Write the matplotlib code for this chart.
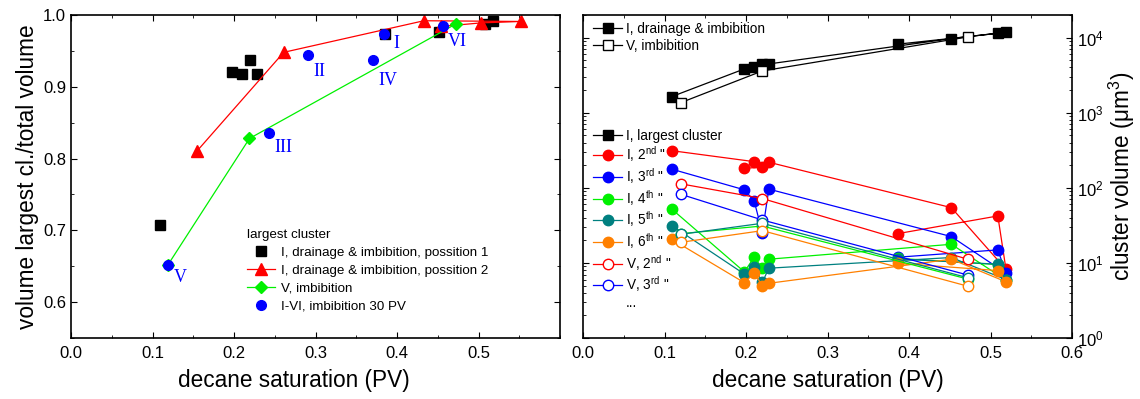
import matplotlib
matplotlib.use('Agg')
import matplotlib.pyplot as plt
from matplotlib.lines import Line2D
from matplotlib.ticker import MultipleLocator, LogLocator, NullFormatter

plt.rcParams['font.family'] = ['Liberation Sans', 'DejaVu Sans']
plt.rcParams['mathtext.fontset'] = 'custom'
plt.rcParams['mathtext.rm'] = 'Liberation Sans'
plt.rcParams['mathtext.it'] = 'Liberation Sans:italic'

# ---- left panel data: largest cluster / total volume ----
pos1_sat = [0.109, 0.198, 0.210, 0.220, 0.228, 0.385, 0.452, 0.508, 0.518]
pos1_frac = [0.707, 0.920, 0.918, 0.937, 0.918, 0.974, 0.977, 0.987, 0.991]

pos2_sat = [0.155, 0.261, 0.433, 0.552, 0.503, 0.454]
pos2_frac = [0.811, 0.948, 0.992, 0.991, 0.989, 0.984]

v_sat = [0.119, 0.219, 0.473]
v_frac = [0.652, 0.828, 0.988]

pv30_sat = [0.384, 0.291, 0.243, 0.370, 0.119, 0.457]
pv30_frac = [0.974, 0.944, 0.836, 0.938, 0.652, 0.984]
pv30_names = ['I', 'II', 'III', 'IV', 'V', 'VI']

# ---- right panel data: cluster volumes (um^3) ----
sat_I = [0.109, 0.198, 0.210, 0.220, 0.228, 0.452, 0.519, 0.509, 0.386]
sat_I_red = [0.109, 0.210, 0.198, 0.220, 0.228, 0.452, 0.519, 0.509, 0.386]
I_largest = [1640, 3830, 4110, 4460, 4460, 9700, 11800, 11400, 8170]
I_2nd = [312, 223, 182, 188, 219, 54.4, 8.2, 42.2, 24.5]
I_3rd = [177, 94, 67, 25.3, 96, 22.4, 7.3, 14.9, 11.9]
I_4th = [52, 7.6, 11.9, 8.5, 11.2, 17.7, 5.9, 9.5, 11.5]
I_5th = [31.3, 7.1, 8.9, 5.5, 8.5, 11.8, 6.0, 9.6, 11.3]
I_6th = [20.6, 5.45, 7.3, 5.0, 5.35, 11.2, 5.6, 7.9, 9.9]

sat_V = [0.120, 0.220, 0.472]
V_largest = [1361, 3597, 10200]
V_2nd = [113, 72, 11.2]
V_3rd = [82, 37.3, 6.9]
V_4th = [24.5, 31, 6.1]
V_5th = [24, 33.7, 6.35]
V_6th = [18.8, 26.9, 4.9]

RED = '#ff0000'
GREEN = '#00f000'
BLUE = '#0000ff'
TEAL = '#008080'
ORANGE = '#ff8000'

fig = plt.figure(figsize=(11.4, 3.99), dpi=100)
ax1 = fig.add_axes([71 / 1140, 61 / 399, 489 / 1140, 323 / 399])
ax2 = fig.add_axes([583 / 1140, 61 / 399, 489 / 1140, 323 / 399])

# ---------------- left panel ----------------
ax1.plot(pos1_sat, pos1_frac, 's', color='black', ms=6.5,
         label='I, drainage & imbibition, possition 1')
ax1.plot(pos2_sat, pos2_frac, '-^', color=RED, lw=0.9, ms=8,
         label='I, drainage & imbibition, possition 2')
ax1.plot(v_sat, v_frac, '-D', color=GREEN, lw=0.9, ms=6.5,
         label='V, imbibition')
ax1.plot(pv30_sat, pv30_frac, 'o', color=BLUE, ms=7,
         label='I-VI, imbibition 30 PV')

label_offsets = [(9, -7), (8, -12), (10, -11), (11, -15), (9, -9), (10, -11)]
for sx, fy, name, off in zip(pv30_sat, pv30_frac, pv30_names, label_offsets):
    ax1.annotate(name, (sx, fy), xytext=off, textcoords='offset points',
                 ha='center', va='center', color=BLUE, fontsize=13,
                 family='Liberation Serif')

ax1.set_xlim(0, 0.6)
ax1.set_ylim(0.55, 1.0)
ax1.set_xticks([0.0, 0.1, 0.2, 0.3, 0.4, 0.5])
ax1.xaxis.set_minor_locator(MultipleLocator(0.05))
ax1.yaxis.set_major_locator(MultipleLocator(0.1))
ax1.yaxis.set_minor_locator(MultipleLocator(0.05))
ax1.set_xlabel('decane saturation (PV)', fontsize=16.3)
ax1.xaxis.set_label_coords(0.455, -0.095)
ax1.set_ylabel('volume largest cl./total volume', fontsize=16.3, labelpad=3)
ax1.legend(title='largest cluster', loc='lower left',
           bbox_to_anchor=(0.35, 0.062), frameon=False, fontsize=9.6,
           title_fontsize=9.6, handlelength=2.1, handletextpad=0.4,
           labelspacing=0.42, borderaxespad=0, alignment='left')

# ---------------- right panel ----------------
ax2.set_yscale('log')
ax2.plot(sat_I, I_largest, '-s', color='black', lw=0.9, ms=7)
ax2.plot(sat_V, V_largest, '-s', color='black', mfc='white', lw=0.9, ms=7)

ax2.plot(sat_I_red, I_2nd, '-o', color=RED, lw=0.9, ms=7.5)
ax2.plot(sat_I, I_3rd, '-o', color=BLUE, lw=0.9, ms=7.5)
ax2.plot(sat_I, I_4th, '-o', color=GREEN, lw=0.9, ms=7.5)
ax2.plot(sat_I, I_5th, '-o', color=TEAL, lw=0.9, ms=7.5)
ax2.plot(sat_I, I_6th, '-o', color=ORANGE, lw=0.9, ms=7.5)

ax2.plot(sat_V, V_2nd, '-o', color=RED, mfc='white', lw=0.9, ms=7.5)
ax2.plot(sat_V, V_3rd, '-o', color=BLUE, mfc='white', lw=0.9, ms=7.5)
ax2.plot(sat_V, V_4th, '-o', color=GREEN, mfc='white', lw=0.9, ms=7.5)
ax2.plot(sat_V, V_5th, '-o', color=TEAL, mfc='white', lw=0.9, ms=7.5)
ax2.plot(sat_V, V_6th, '-o', color=ORANGE, mfc='white', lw=0.9, ms=7.5)

ax2.set_xlim(0, 0.6)
ax2.set_ylim(1, 2.0e4)
ax2.xaxis.set_major_locator(MultipleLocator(0.1))
ax2.xaxis.set_minor_locator(MultipleLocator(0.05))
ax2.yaxis.set_major_locator(LogLocator(base=10, numticks=10))
ax2.yaxis.set_minor_locator(LogLocator(base=10, subs=range(2, 10), numticks=20))
ax2.yaxis.set_minor_formatter(NullFormatter())
ax2.yaxis.tick_right()
ax2.yaxis.set_label_position('right')
ax2.set_xlabel('decane saturation (PV)', fontsize=16.3)
ax2.xaxis.set_label_coords(0.5, -0.095)
ax2.set_ylabel('cluster volume (μm$^3$)', fontsize=16.3, labelpad=2)

top_handles = [
    Line2D([], [], color='black', marker='s', lw=0.9, ms=7),
    Line2D([], [], color='black', marker='s', mfc='white', lw=0.9, ms=7),
]
leg_top = ax2.legend(top_handles, ['I, drainage & imbibition', 'V, imbibition'],
                     loc='upper left', bbox_to_anchor=(0.01, 0.995),
                     frameon=False, fontsize=9.8, handlelength=2.1,
                     handletextpad=0.3, labelspacing=0.2, borderaxespad=0)
ax2.add_artist(leg_top)

mid_handles = [
    Line2D([], [], color='black', marker='s', lw=0.9, ms=7),
    Line2D([], [], color=RED, marker='o', lw=0.9, ms=7.5),
    Line2D([], [], color=BLUE, marker='o', lw=0.9, ms=7.5),
    Line2D([], [], color=GREEN, marker='o', lw=0.9, ms=7.5),
    Line2D([], [], color=TEAL, marker='o', lw=0.9, ms=7.5),
    Line2D([], [], color=ORANGE, marker='o', lw=0.9, ms=7.5),
    Line2D([], [], color=RED, marker='o', mfc='white', lw=0.9, ms=7.5),
    Line2D([], [], color=BLUE, marker='o', mfc='white', lw=0.9, ms=7.5),
    Line2D([], [], linestyle='none', marker='none'),
]
mid_labels = ['I, largest cluster', 'I, 2$^{\\rm nd}$ "', 'I, 3$^{\\rm rd}$ "',
              'I, 4$^{\\rm th}$ "', 'I, 5$^{\\rm th}$ "', 'I, 6$^{\\rm th}$ "',
              'V, 2$^{\\rm nd}$ "', 'V, 3$^{\\rm rd}$ "', '...']
ax2.legend(mid_handles, mid_labels, loc='upper left',
           bbox_to_anchor=(0.01, 0.665), frameon=False, fontsize=9.8,
           handlelength=2.1, handletextpad=0.3, labelspacing=0.13,
           borderaxespad=0)

for ax in (ax1, ax2):
    ax.tick_params(which='both', direction='in', top=True, bottom=True,
                   left=True, right=True, labelsize=12)
    ax.tick_params(which='major', length=4)
    ax.tick_params(which='minor', length=2.5)
    ax.tick_params(axis='x', pad=6)
    for sp in ax.spines.values():
        sp.set_linewidth(1.2)

fig.savefig('out.png', dpi=100)
